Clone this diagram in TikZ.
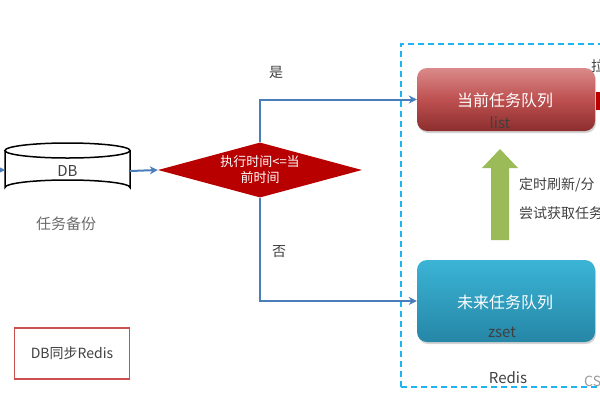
\documentclass[tikz,border=0pt]{standalone}
\usepackage{fontspec}
\setmainfont{Noto Sans CJK SC}
\usetikzlibrary{shapes.geometric,arrows.meta,shadows}
\definecolor{flow}{HTML}{4A7EBB}
\definecolor{txt}{HTML}{404040}
\definecolor{dia}{HTML}{B80000}
\definecolor{dashcol}{HTML}{1EB4EF}
\definecolor{grn}{HTML}{9BBB59}
\definecolor{redtop}{RGB}{218,138,138}
\definecolor{redmid}{RGB}{190,80,80}
\definecolor{redbot}{RGB}{140,46,46}
\definecolor{blutop}{RGB}{59,180,214}
\definecolor{blubot}{RGB}{38,134,166}
\definecolor{legred}{RGB}{205,80,80}
\tikzset{
  conn/.style={draw=flow, line width=2pt, -{Stealth[length=8pt,width=8pt]}},
  lbl/.style={text=txt, inner sep=0pt, font=\fontsize{14}{16}\selectfont},
  qbox/.style={rounded corners=10pt, minimum width=178pt, inner sep=0pt,
     drop shadow={opacity=0.35, shadow xshift=1pt, shadow yshift=-2pt}},
  qtext/.style={text=white, inner sep=0pt, font=\fontsize{16}{18}\selectfont},
}
\begin{document}
\begin{tikzpicture}[x=1pt,y=-1pt]
\useasboundingbox (0,0) rectangle (600,400);
\clip (0,0) rectangle (600,400);
% DB cylinder
\draw[line width=1.5pt, fill=white] (5,150.5) -- (5,187.5) arc[start angle=180, end angle=360, x radius=62.5, y radius=7.5] -- (130,150.5);
\draw[line width=1.5pt] (67.5,150.5) ellipse[x radius=62.5, y radius=7.5];
\node[lbl, font=\fontsize{15}{17}\selectfont, minimum width=125pt, minimum height=52pt] (db) at (67.5,171) {DB};
\node[lbl, text=gray!85!black, font=\fontsize{15}{17}\selectfont] (bak) at (66,224) {任务备份};
\coordinate (in) at (-2,170);
\draw[conn] (in) -- (5,170);
% decision
\node[diamond, fill=dia, minimum width=204pt, minimum height=55pt, aspect=3.7, inner sep=0pt,
      text=white, align=center, font=\fontsize{13}{16}\selectfont] (dec) at (260,170) {执行时间<=当\\前时间};
\draw[conn] (db.east) -- (dec.west);
% redis frame
\draw[dashcol, line width=1.8pt, dash pattern=on 6pt off 4pt] (401,387) -- (401,44) -- (620,44) (401,387) -- (620,387);
\node[lbl, font=\fontsize{15}{17}\selectfont] (redis) at (508,378) {Redis};
% queues
\node[qbox, minimum height=63pt, top color=redtop, bottom color=redbot, middle color=redmid] (cur) at (506,99.5) {};
\node[qtext] (curt) at (505,100) {当前任务队列};
\node[lbl, font=\fontsize{15}{17}\selectfont] (list) at (500,123) {list};
\node[qbox, minimum height=82pt, top color=blutop, bottom color=blubot] (fut) at (506,301) {};
\node[qtext] (futt) at (505,302) {未来任务队列};
\node[lbl, font=\fontsize{15}{17}\selectfont] (zset) at (502,332) {zset};
% branches
\draw[conn] (dec.north) |- (cur.west);
\draw[conn] (dec.south) |- (fut.west);
\node[lbl] (yes) at (276,72) {是};
\node[lbl] (no) at (279,252) {否};
% green up arrow
\fill[grn] (491,240) -- (491,168) -- (482,168) -- (500,149) -- (518,168) -- (509,168) -- (509,240) -- cycle;
\node[lbl, anchor=west] (t1) at (519,185) {定时刷新/分};
\node[lbl, anchor=west] (t2) at (519,213) {尝试获取任务};
% right edge fragments
\fill[dia] (596,92) rectangle (602,110);
\node[lbl, anchor=west] (la) at (591,66) {拉};
\node[lbl, anchor=west, text=gray!80] (cs) at (584,381) {CS};
% legend
\node[draw=legred, line width=1.5pt, minimum width=115pt, minimum height=51pt,
      lbl, font=\fontsize{14}{16}\selectfont] (leg) at (72,353.5) {DB同步Redis};
\end{tikzpicture}
\end{document}
